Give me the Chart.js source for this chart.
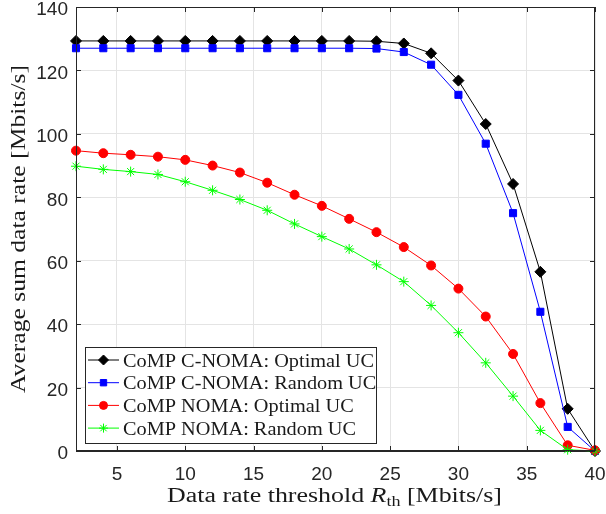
<!DOCTYPE html>
<html><head><meta charset="utf-8">
<script src="https://cdn.jsdelivr.net/npm/chart.js@4/dist/chart.umd.min.js"></script>
<style>html,body{margin:0;padding:0;background:#fff;}#wrap{width:606px;height:514px;position:relative;}</style>
</head><body><div id="wrap"><canvas id="c" width="606" height="514"></canvas></div>
<script>
const thresholds = [2,4,6,8,10,12,14,16,18,20,22,24,26,28,30,32,34,36,38,40];
const xTickValues = [5,10,15,20,25,30,35,40];
const yTickValues = [0,20,40,60,80,100,120,140];
const seriesNames = ['CoMP C-NOMA: Optimal UC','CoMP C-NOMA: Random UC','CoMP NOMA: Optimal UC','CoMP NOMA: Random UC'];
const cnomaOptimal = [129.3,129.3,129.3,129.3,129.3,129.3,129.3,129.3,129.3,129.3,129.3,129.2,128.5,125.4,116.8,103.1,84.2,56.5,13.3,0];
const cnomaRandom  = [127.0,127.0,127.0,127.0,127.0,127.0,127.0,127.0,127.0,127.0,127.0,126.9,125.8,121.8,112.3,96.9,75.0,43.9,7.6,0];
const nomaOptimal  = [94.7,93.9,93.4,92.8,91.8,90.0,87.8,84.6,80.8,77.3,73.2,69.0,64.3,58.5,51.2,42.4,30.6,15.1,1.8,0.2];
const nomaRandom   = [89.8,88.8,88.1,87.2,84.9,82.2,79.3,75.9,71.6,67.6,63.7,58.7,53.4,45.9,37.3,27.8,17.3,6.5,0.4,0];
const xTitleParts = ['Data rate threshold ','R','th',' [Mbits/s]'];
const yTitle = 'Average sum data rate [Mbits/s]';

const colors = ['#000000','#0000ff','#ff0000','#00ff00'];
const styles = ['rectRot','rect','circle','star'];
const radii = [5.5,5,4.5,5];
const allSeries = [cnomaOptimal,cnomaRandom,nomaOptimal,nomaRandom];
const AX = '#262626';
const TXT = '#1a1a1a';
const SERIF = '"Liberation Serif", "Times New Roman", serif';

const datasets = allSeries.map((arr,i)=>({
  label: seriesNames[i],
  data: thresholds.map((x,j)=>({x:x,y:arr[j]})),
  borderColor: colors[i], backgroundColor: colors[i],
  pointBackgroundColor: colors[i], pointBorderColor: colors[i],
  pointStyle: styles[i], pointRadius: radii[i], pointBorderWidth: 1,
  borderWidth: 1, tension: 0, clip: false, order: 3-i
}));

function drawParts(ctx, parts, cx, by, targetW){
  let tw=0; parts.forEach(p=>{ctx.font=p.f; p.w=ctx.measureText(p.t).width; tw+=p.w;});
  const k = targetW/tw;
  ctx.save(); ctx.translate(cx - targetW/2, by); ctx.scale(k,1);
  let x=0; ctx.textBaseline='alphabetic'; ctx.textAlign='left';
  parts.forEach(p=>{ctx.font=p.f; ctx.fillText(p.t,x,p.dy); x+=p.w;});
  ctx.restore();
}

const decor = {
  id:'decor',
  afterDatasetsDraw(chart){
    const {ctx, chartArea:a, scales:{x,y}} = chart;
    ctx.save();
    ctx.strokeStyle = AX; ctx.lineWidth = 1;
    ctx.strokeRect(Math.round(a.left)+0.5, Math.round(a.top)+0.5, Math.round(a.right-a.left)-1, Math.round(a.bottom-a.top)-1);
    ctx.beginPath();
    xTickValues.forEach(v=>{const px=Math.round(x.getPixelForValue(v))+0.5;
      ctx.moveTo(px,a.bottom); ctx.lineTo(px,a.bottom-5); ctx.moveTo(px,a.top); ctx.lineTo(px,a.top+5);});
    yTickValues.forEach(v=>{const py=Math.round(y.getPixelForValue(v))+0.5;
      ctx.moveTo(a.left,py); ctx.lineTo(a.left+5,py); ctx.moveTo(a.right,py); ctx.lineTo(a.right-5,py);});
    ctx.stroke();
    // legend
    const lx=85, ly=347, lw=291, lh=96;
    ctx.fillStyle='#fff'; ctx.fillRect(lx,ly,lw,lh);
    ctx.strokeStyle=AX; ctx.strokeRect(lx+0.5,ly+0.5,lw,lh);
    ctx.font='19px '+SERIF;
    const k = 251/ctx.measureText(seriesNames[0]).width;
    seriesNames.forEach((n,i)=>{
      const ry = 360 + i*22.7;
      ctx.strokeStyle=colors[i]; ctx.lineWidth=1;
      ctx.beginPath(); ctx.moveTo(88,ry); ctx.lineTo(119,ry); ctx.stroke();
      ctx.fillStyle=colors[i];
      Chart.helpers.drawPoint(ctx,{pointStyle:styles[i],radius:radii[i]-0.5,borderWidth:1},103.5,ry);
      ctx.save(); ctx.fillStyle=TXT; ctx.font='19px '+SERIF; ctx.textBaseline='alphabetic'; ctx.textAlign='left';
      ctx.translate(123, ry+6.5); ctx.scale(k,1); ctx.fillText(n,0,0); ctx.restore();
    });
    ctx.fillStyle=TXT;
    const f='20px '+SERIF;
    drawParts(ctx,[{t:xTitleParts[0],f:f,dy:0},{t:xTitleParts[1],f:'italic '+f,dy:0},{t:xTitleParts[2],f:'14px '+SERIF,dy:4},{t:xTitleParts[3],f:f,dy:0}],334.5,502,335);
    ctx.save(); ctx.translate(25,229); ctx.rotate(-Math.PI/2);
    drawParts(ctx,[{t:yTitle,f:f,dy:0}],0,0,328);
    ctx.restore();
    ctx.restore();
  }
};

new Chart(document.getElementById('c'),{
  type:'line',
  data:{datasets:datasets},
  plugins:[decor],
  options:{
    responsive:false, animation:false, devicePixelRatio:1,
    layout:{padding:{top:7,right:11,left:0,bottom:0}},
    plugins:{legend:{display:false},tooltip:{enabled:false}},
    elements:{line:{fill:false}},
    scales:{
      x:{type:'linear',min:2,max:40,
        afterBuildTicks:s=>{s.ticks=xTickValues.map(v=>({value:v}));},
        afterFit:s=>{s.height=63; s.paddingLeft=0; s.paddingRight=0;},
        grid:{color:'#e4e4e4',drawTicks:false},
        border:{color:AX},
        ticks:{color:AX,font:{family:'"Liberation Sans", Arial, sans-serif',size:19},padding:12,maxRotation:0}
      },
      y:{min:0,max:140,
        afterBuildTicks:s=>{s.ticks=yTickValues.map(v=>({value:v}));},
        afterFit:s=>{s.width=76; s.paddingTop=0; s.paddingBottom=0;},
        grid:{color:'#e4e4e4',drawTicks:false},
        border:{color:AX},
        ticks:{color:AX,font:{family:'"Liberation Sans", Arial, sans-serif',size:19},padding:8,labelOffset:3}
      }
    }
  }
});
</script></body></html>
